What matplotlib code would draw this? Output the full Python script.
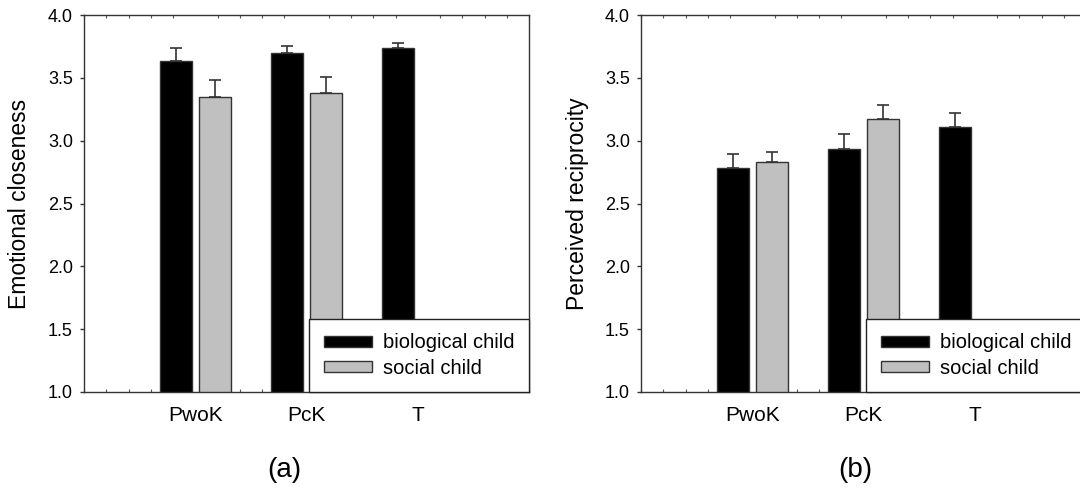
import numpy as np
import matplotlib
matplotlib.use("Agg")
import matplotlib.pyplot as plt
from matplotlib.ticker import FixedLocator, MultipleLocator

plt.rcParams['font.family'] = ['Liberation Sans', 'DejaVu Sans']

# Data: mean scores (with upper standard errors) per partnership type
groups = ['PwoK', 'PcK', 'T']
series_labels = ['biological child', 'social child']

closeness_bio = [3.63, 3.70, 3.74]
closeness_bio_se = [0.11, 0.05, 0.04]
closeness_social = [3.35, 3.38]
closeness_social_se = [0.13, 0.13]

reciprocity_bio = [2.78, 2.93, 3.11]
reciprocity_bio_se = [0.11, 0.12, 0.11]
reciprocity_social = [2.83, 3.17]
reciprocity_social_se = [0.08, 0.11]

y_ticks = [1.0, 1.5, 2.0, 2.5, 3.0, 3.5, 4.0]
panel_tags = ['(a)', '(b)']
y_titles = ['Emotional closeness', 'Perceived reciprocity']

BIO_COLOR = '#000000'
SOCIAL_COLOR = '#c0c0c0'
EDGE = '#333333'
ERR = '#333333'
BAR_W = 0.29
OFFSET = 0.175


def draw_panel(ax, bio, bio_se, social, social_se, ytitle):
    xb = np.arange(len(bio)) - OFFSET
    xs = np.arange(len(social)) + OFFSET
    ax.bar(xb, bio, width=BAR_W, color=BIO_COLOR, edgecolor=EDGE,
           linewidth=1.0, label=series_labels[0], zorder=2)
    ax.bar(xs, social, width=BAR_W, color=SOCIAL_COLOR, edgecolor=EDGE,
           linewidth=1.0, label=series_labels[1], zorder=2)
    ax.errorbar(xb, bio, yerr=[np.zeros(len(bio)), bio_se], fmt='none',
                ecolor=ERR, elinewidth=1.2, capsize=4, capthick=1.2, zorder=3)
    ax.errorbar(xs, social, yerr=[np.zeros(len(social)), social_se], fmt='none',
                ecolor=ERR, elinewidth=1.2, capsize=4, capthick=1.2, zorder=3)

    ax.set_xlim(-1, 3)
    ax.set_ylim(1.0, 4.0)
    ax.yaxis.set_major_locator(FixedLocator(y_ticks))
    ax.set_yticklabels([f'{v:.1f}' for v in y_ticks], fontsize=13)
    ax.set_xticks(np.arange(len(groups)))
    ax.set_xticklabels(groups, fontsize=15)
    ax.xaxis.set_minor_locator(MultipleLocator(0.2))

    ax.tick_params(axis='x', which='major', length=0, pad=10)
    ax.tick_params(axis='x', which='minor', direction='in', length=2.5,
                   width=0.8, color='#555555', top=True, bottom=True)
    ax.tick_params(axis='y', which='major', direction='out', length=3,
                   width=1.0, color='#333333', pad=5, right=False)

    for sp in ax.spines.values():
        sp.set_color('#333333')
        sp.set_linewidth(1.0)

    ax.set_ylabel(ytitle, fontsize=16.5)

    leg = ax.legend(loc='lower right', bbox_to_anchor=(1.0, 0.0),
                    borderaxespad=0, frameon=True, fancybox=False,
                    edgecolor='#222222', framealpha=1, fontsize=14.5,
                    handlelength=2.4, handleheight=0.5, handletextpad=0.55,
                    borderpad=0.72, labelspacing=0.3)
    leg.get_frame().set_linewidth(1.0)
    leg.set_zorder(5)


fig = plt.figure(figsize=(10.8, 4.88), dpi=100)
W, H = 1080.0, 488.0
ax1 = fig.add_axes([84 / W, 96 / H, 445 / W, 377 / H])
ax2 = fig.add_axes([641 / W, 96 / H, 445 / W, 377 / H])

draw_panel(ax1, closeness_bio, closeness_bio_se, closeness_social,
           closeness_social_se, y_titles[0])
draw_panel(ax2, reciprocity_bio, reciprocity_bio_se, reciprocity_social,
           reciprocity_social_se, y_titles[1])

ax1.yaxis.set_label_coords((31 - 84) / 445, 0.5)
ax2.yaxis.set_label_coords((589 - 641) / 445, 0.5)

fig.text(284 / W, 18 / H, panel_tags[0], ha='center', va='center', fontsize=20)
fig.text(855 / W, 18 / H, panel_tags[1], ha='center', va='center', fontsize=20)

fig.savefig('out.png', dpi=100)
